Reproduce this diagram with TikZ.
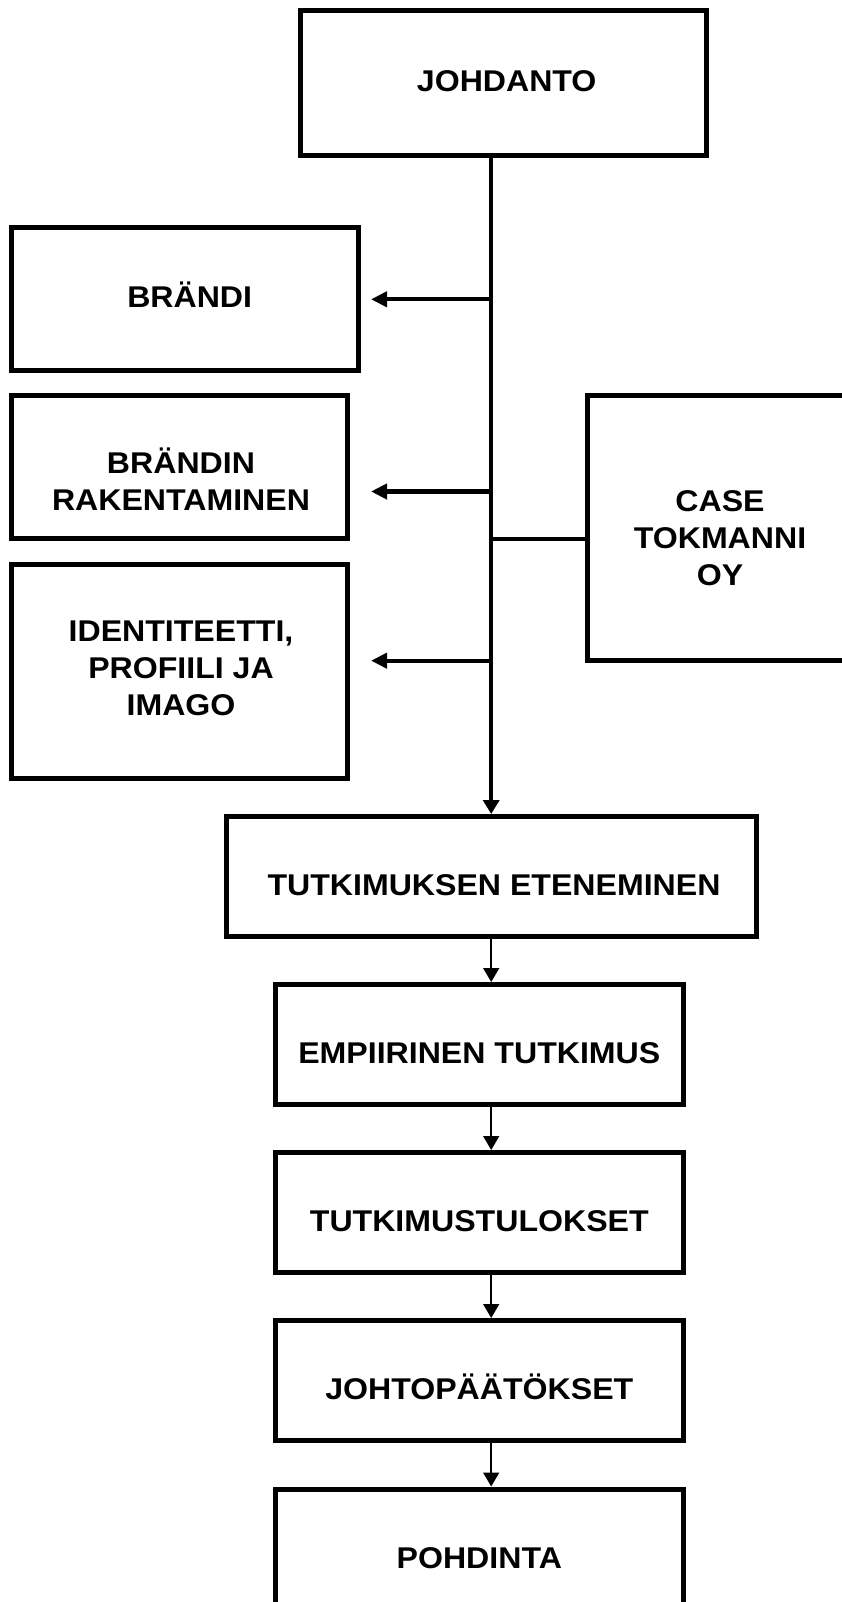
\documentclass[tikz,border=0pt]{standalone}
\usepackage{fontspec}
\newfontfamily\lblfont{Liberation Sans}[UprightFont=* Bold, FakeStretch=1.07]
\usetikzlibrary{arrows.meta}
\begin{document}
\begin{tikzpicture}[x=1pt,y=-1pt,
  box/.style={draw, line width=5pt, inner sep=0pt, rectangle},
  lbl/.style={inner sep=0pt, font=\lblfont\fontsize{30}{37}\selectfont, align=center},
  spine/.style={line width=4.3pt},
  thinline/.style={line width=1.5pt},
  downtip/.style={-{Triangle[length=14pt,width=16pt]}},
  lefttip/.style={-{Triangle[length=16pt,width=15pt]}}]
\useasboundingbox (0,0) rectangle (841,1602);
\fill[white] (0,0) rectangle (841,1602);
% boxes
\node[box, minimum width=406.3pt, minimum height=144.5pt] (johd) at (503.2,83.25) {};
\node[box, minimum width=347.3pt, minimum height=142.8pt] (brandi) at (184.7,299.1) {};
\node[box, minimum width=336pt, minimum height=142.5pt] (brak) at (179,467.2) {};
\node[box, minimum width=336pt, minimum height=214.5pt] (ident) at (179,671.7) {};
\node[box, minimum width=264.3pt, minimum height=264.6pt] (case) at (719.8,528) {};
\node[box, minimum width=529.5pt, minimum height=119.5pt] (tutk) at (491.25,876.25) {};
\node[box, minimum width=407.5pt, minimum height=119.5pt] (emp) at (479.25,1044.25) {};
\node[box, minimum width=407.5pt, minimum height=119.5pt] (tul) at (479.25,1212.25) {};
\node[box, minimum width=407.5pt, minimum height=119.5pt] (joh) at (479.25,1380.25) {};
\node[box, minimum width=407.5pt, minimum height=119.5pt] (poh) at (479.25,1548.75) {};
% texts
\node[lbl, anchor=base] (johdT) at (506.7,91.7) {JOHDANTO};
\node[lbl, anchor=base] (brandiT) at (189.7,307.3) {BRÄNDI};
\node[lbl, anchor=north] (brakT) at (181,443.5) {\rule{0pt}{30pt}BRÄNDIN\\RAKENTAMINEN};
\node[lbl, anchor=north] (identT) at (181,611.7) {\rule{0pt}{30pt}IDENTITEETTI,\\PROFIILI JA\\IMAGO};
\node[lbl, anchor=north] (caseT) at (720,481) {\rule{0pt}{30pt}CASE\\TOKMANNI\\OY};
\node[lbl, anchor=base] (tutkT) at (494,895) {TUTKIMUKSEN ETENEMINEN};
\node[lbl, anchor=base] (empT) at (479.3,1063) {EMPIIRINEN TUTKIMUS};
\node[lbl, anchor=base] (tulT) at (479.3,1231) {TUTKIMUSTULOKSET};
\node[lbl, anchor=base] (johT) at (479.3,1399.5) {JOHTOPÄÄTÖKSET};
\node[lbl, anchor=base] (pohT) at (479.3,1568) {POHDINTA};
% connectors
\coordinate (sp) at (491.2,0);
\coordinate (a1) at (371,299.3);
\coordinate (a2) at (371,491.5);
\coordinate (a3) at (371,660.7);
\coordinate (c1) at (0,539.3);
\draw[spine, downtip] (johd.south -| sp) -- (tutk.north -| sp);
\draw[spine, lefttip] (a1 -| sp) -- (a1);
\draw[spine, lefttip] (a2 -| sp) -- (a2);
\draw[spine, lefttip] (a3 -| sp) -- (a3);
\draw[spine] (c1 -| sp) -- (c1 -| case.west);
\draw[thinline, downtip] (tutk.south -| sp) -- (emp.north -| sp);
\draw[thinline, downtip] (emp.south -| sp) -- (tul.north -| sp);
\draw[thinline, downtip] (tul.south -| sp) -- (joh.north -| sp);
\draw[thinline, downtip] (joh.south -| sp) -- (poh.north -| sp);
\end{tikzpicture}
\end{document}
